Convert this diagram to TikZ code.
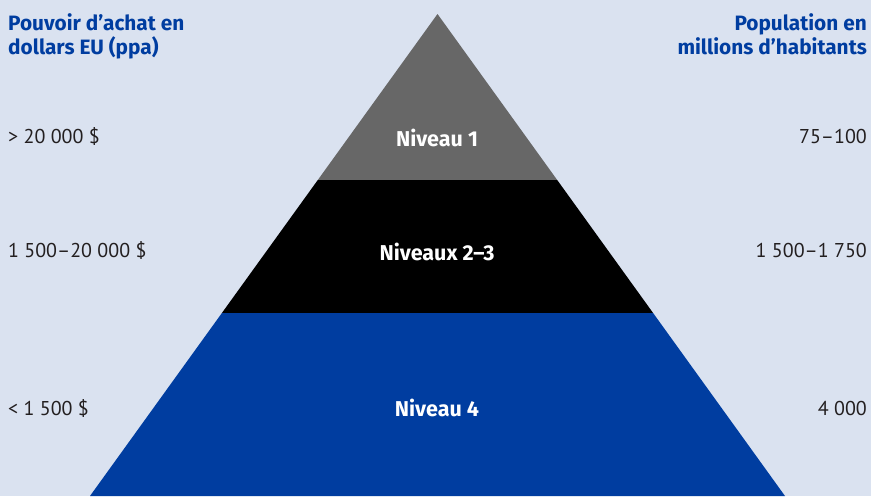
\documentclass[tikz,border=0pt]{standalone}
\usepackage{fontspec}
\setmainfont{PT Sans}
\newfontfamily\hfont{Fira Sans}
\definecolor{bg}{HTML}{DAE2F0}
\definecolor{pblue}{HTML}{003DA0}
\definecolor{pgray}{HTML}{676767}
\definecolor{txt}{HTML}{231F20}
\begin{document}
\begin{tikzpicture}[x=1pt,y=-1pt,
  lab/.style={font=\fontsize{20}{22}\selectfont, text=txt, inner sep=0pt},
  hdr/.style={font=\hfont\fontsize{20.8}{23.5}\selectfont\bfseries, text=pblue, inner sep=0pt, align=left},
  lvl/.style={font=\hfont\fontsize{21.5}{22}\selectfont\bfseries, text=white, inner sep=0pt}]
\fill[bg] (0,0) rectangle (871,496);
\useasboundingbox (0,0) rectangle (871,496);
% pyramid layers
\fill[pgray] (437.5,14) -- (557.2,180) -- (317.8,180) -- cycle;
\fill[black] (317.8,180) -- (557.2,180) -- (653.1,313) -- (221.9,313) -- cycle;
\fill[pblue] (221.9,313) -- (653.1,313) -- (785,496) -- (90,496) -- cycle;
% level labels
\node[lvl] (l1) at (437,138) {Niveau 1};
\node[lvl] (l2) at (437,252) {Niveaux 2–3};
\node[lvl] (l4) at (437,408) {Niveau 4};
% headers
\node[hdr, anchor=north west] (hl) at (8,13.5) {Pouvoir d’achat en\\dollars EU (ppa)};
\node[hdr, anchor=north east, align=right] (hr) at (867,13.5) {Population en\\millions d’habitants};
% left labels
\node[lab, anchor=west] (a1) at (8,136) {> 20 000 \$};
\node[lab, anchor=west] (a2) at (8,250) {1 500–20 000 \$};
\node[lab, anchor=west] (a3) at (8,408) {< 1 500 \$};
% right labels
\node[lab, anchor=east] (b1) at (867,136) {75–100};
\node[lab, anchor=east] (b2) at (867,250) {1 500–1 750};
\node[lab, anchor=east] (b3) at (867,408) {4 000};
\end{tikzpicture}
\end{document}
